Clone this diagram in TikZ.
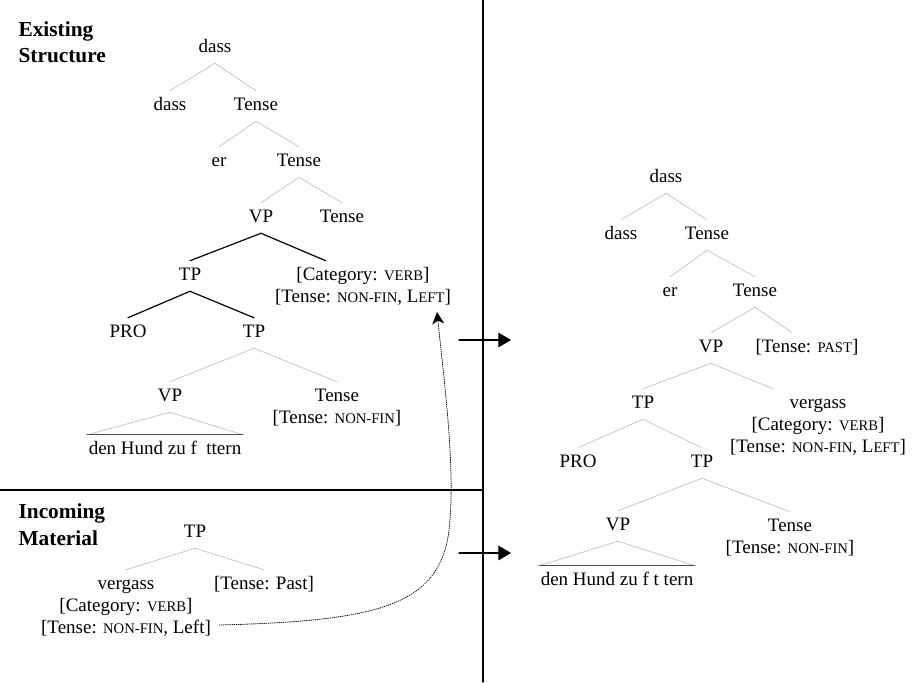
\documentclass[tikz,border=0pt]{standalone}
\usepackage{fontspec}
\setmainfont{Liberation Serif}
\usetikzlibrary{arrows.meta,positioning}

% small capitals by hand, Liberation Serif has none
\newcommand\smcap[1]{{\fontsize{11pt}{13pt}\selectfont\MakeUppercase{#1}}}

\begin{document}
\begin{tikzpicture}[x=0.75pt,y=-0.75pt,line cap=round,line join=round,
  every node/.style={font=\fontsize{14.25pt}{17pt}\selectfont,inner xsep=1pt,inner ysep=4.5pt,text height=10pt,text depth=3.5pt},
  feat/.style={inner ysep=1.3pt},
  heading/.style={anchor=base west,font=\fontsize{16pt}{20pt}\selectfont\bfseries},
  twig/.style={black!25,line width=0.5pt},
  limb/.style={black,line width=0.9pt},
  floor/.style={black!70,line width=0.7pt}]
  \useasboundingbox (0,0) rectangle (912,682);

  % frame
  \draw[line width=0.8pt] (483,0) -- (483,682);
  \draw[line width=0.8pt] (0,490) -- (483,490);
  \node[heading] at (17,36) {Existing};
  \node[heading] at (17,62) {Structure};
  \node[heading] at (17,518) {Incoming};
  \node[heading] at (17,545) {Material};

  % existing structure
  \node (xDass) at (215,48) {dass};
  \node (xDassL) at (170,106) {dass};
  \node (xTense1) at (256,106) {Tense};
  \node (xEr) at (219,162) {er};
  \node (xTense2) at (299,162) {Tense};
  \node (xVP) at (261,218) {VP};
  \node (xTense3) at (342,218) {Tense};
  \node (xTP) at (190,276) {TP};
  \node (xCat) at (363,276) {[Category: \smcap{verb}]};
  \node[feat,below=-3.2pt of xCat] (xCatT) {[Tense: \smcap{non-fin}, L\smcap{eft}]};
  \node (xPRO) at (128,333) {PRO};
  \node (xTP2) at (254,333) {TP};
  \node (xVP2) at (170,397) {VP};
  \node (xTense4) at (337,397) {Tense};
  \node[feat,below=-3.2pt of xTense4] (xTense4f) {[Tense: \smcap{non-fin}]};
  \node (xHund) at (165,450) {den Hund zu f\hspace{0.5em}ttern};

  \draw[twig] (xDassL.north) -- (xDass.south) -- (xTense1.north);
  \draw[twig] (xEr.north) -- (xTense1.south) -- (xTense2.north);
  \draw[twig] (xVP.north) -- (xTense2.south) -- (xTense3.north);
  \draw[limb] (xTP.north) -- (xVP.south) -- ([xshift=-28pt]xCat.north);
  \draw[limb] (xPRO.north) -- (xTP.south) -- (xTP2.north);
  \draw[twig] (xVP2.north) -- (xTP2.south) -- (xTense4.north);
  \draw[twig] (xHund.north west) -- (xVP2.south) -- (xHund.north east);
  \draw[floor] (xHund.north west) -- (xHund.north east);

  % incoming material
  \node (iTP) at (195,533) {TP};
  \node (iVerg) at (126,585) {vergass};
  \node[feat,below=-3.2pt of iVerg] (iVergC) {[Category: \smcap{verb}]};
  \node[feat,below=0pt of iVergC] (iVergT) {[Tense: \smcap{non-fin}, Left]};
  \node (iPast) at (264,585) {[Tense: Past]};

  \draw[twig] (iVerg.north) -- (iTP.south) -- (iPast.north);

  % result
  \node (rDass) at (666,178) {dass};
  \node (rDassL) at (621,235) {dass};
  \node (rTense1) at (707,235) {Tense};
  \node (rEr) at (670,292) {er};
  \node (rTense2) at (755,292) {Tense};
  \node (rVP) at (711,348) {VP};
  \node (rPast) at (807,348) {[Tense: \smcap{past}]};
  \node (rTP) at (643,404) {TP};
  \node (rVerg) at (818,404) {vergass};
  \node[feat,below=-3.2pt of rVerg] (rVergC) {[Category: \smcap{verb}]};
  \node[feat,below=0pt of rVergC] (rVergT) {[Tense: \smcap{non-fin}, L\smcap{eft}]};
  \node (rPRO) at (578,463) {PRO};
  \node (rTP2) at (702,463) {TP};
  \node (rVP2) at (618,526) {VP};
  \node (rTense3) at (790,527) {Tense};
  \node[feat,below=-3.2pt of rTense3] (rTense3f) {[Tense: \smcap{non-fin}]};
  \node (rHund) at (617,581) {den Hund zu f t tern};

  \draw[twig] (rDassL.north) -- (rDass.south) -- (rTense1.north);
  \draw[twig] (rEr.north) -- (rTense1.south) -- (rTense2.north);
  \draw[twig] (rVP.north) -- (rTense2.south) -- ([xshift=-11pt]rPast.north);
  \draw[twig] (rTP.north) -- (rVP.south) -- ([xshift=-34pt]rVerg.north);
  \draw[twig] (rPRO.north) -- (rTP.south) -- (rTP2.north);
  \draw[twig] (rVP2.north) -- (rTP2.south) -- (rTense3.north);
  \draw[twig] (rHund.north west) -- (rVP2.south) -- (rHund.north east);
  \draw[floor] (rHund.north west) -- (rHund.north east);

  % arrows
  \coordinate (upA) at (459,340);
  \coordinate (upB) at (511,340);
  \coordinate (lowA) at (459,553);
  \coordinate (lowB) at (511,553);
  \coordinate (hook) at (437,312);
  \draw[line width=0.8pt,-{Triangle[length=9.5pt,width=11pt]}] (upA) -- (upB);
  \draw[line width=0.8pt,-{Triangle[length=9.5pt,width=11pt]}] (lowA) -- (lowB);
  \draw[densely dotted,line width=0.6pt,-{Stealth[length=9pt,width=9pt,inset=2.5pt]}]
    ([xshift=5pt,yshift=3pt]iVergT.east) .. controls (380,621) and (440,605) .. (449,530)
    .. controls (456,470) and (444,380) .. (hook);
\end{tikzpicture}
\end{document}
